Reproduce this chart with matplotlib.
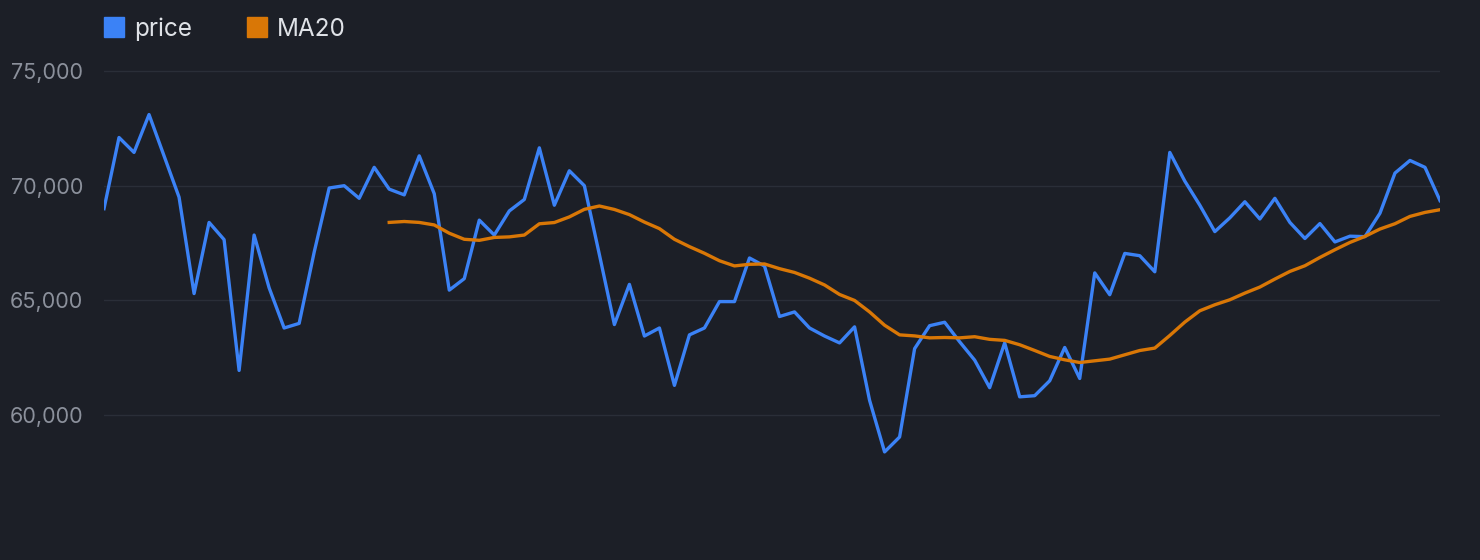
import matplotlib
matplotlib.use('Agg')
import matplotlib.pyplot as plt
from matplotlib.lines import Line2D
from matplotlib.ticker import FuncFormatter
import numpy as np

BG = '#1c1f27'
GRID = '#2a2e38'
TICK = '#8b909b'
TEXT = '#dfe2e7'
BLUE = '#3b82f6'
ORANGE = '#d97706'

price = [69000, 72100, 71450, 73100, 71300, 69500, 65300, 68400, 67650, 61950,
         67850, 65550, 63800, 64000, 67100, 69900, 70000, 69450, 70800, 69850,
         69600, 71300, 69650, 65450, 65950, 68500, 67850, 68900, 69400, 71650,
         69150, 70650, 70000, 67000, 63950, 65700, 63450, 63800, 61300, 63500,
         63800, 64950, 64950, 66850, 66500, 64300, 64500, 63800, 63450, 63150,
         63850, 60650, 58400, 59050, 62900, 63900, 64050, 63200, 62400, 61200,
         63150, 60800, 60850, 61500, 62950, 61600, 66200, 65250, 67050, 66950,
         66250, 71450, 70200, 69150, 68000, 68600, 69300, 68550, 69450, 68400,
         67700, 68350, 67550, 67800, 67780, 68800, 70550, 71100, 70800, 69350]

# MA20 values, starting at the 20th point
ma20_start = 19
ma20 = [68400, 68440, 68400, 68290, 67930, 67665, 67620, 67745, 67770, 67850,
        68340, 68395, 68640, 68970, 69115, 68965, 68740, 68415, 68130, 67665,
        67345, 67055, 66730, 66505, 66575, 66590, 66385, 66220, 65970, 65675,
        65260, 65000, 64500, 63920, 63500, 63455, 63370, 63386, 63370, 63420,
        63305, 63260, 63070, 62820, 62560, 62414, 62296, 62370, 62444, 62632,
        62819, 62924, 63474, 64057, 64550, 64812, 65030, 65320, 65583, 65932,
        66265, 66512, 66874, 67210, 67528, 67790, 68112, 68343, 68662, 68836,
        68954]

y_ticks = [60000, 65000, 70000, 75000]

x = np.arange(len(price))
x_ma = np.arange(ma20_start, ma20_start + len(ma20))

plt.rcParams['font.family'] = ['Inter', 'DejaVu Sans']
fig = plt.figure(figsize=(14.8, 5.6), dpi=100, facecolor=BG)
ax = fig.add_axes([104 / 1480, 1 - 507 / 560, 1336 / 1480, 459 / 560])
ax.set_facecolor(BG)

ax.plot(x, price, color=BLUE, lw=2.4, zorder=3)
ax.plot(x_ma, ma20, color=ORANGE, lw=2.4, zorder=3)

ax.set_xlim(0, len(price) - 1)
ax.set_ylim(56000, 76000)
ax.set_yticks(y_ticks)
ax.yaxis.set_major_formatter(FuncFormatter(lambda v, p: f'{int(v):,}'))
ax.set_xticks([])
ax.grid(axis='y', color=GRID, lw=1)
ax.set_axisbelow(True)
ax.tick_params(axis='y', length=0, pad=15, labelcolor=TICK, labelsize=15.5)
for s in ax.spines.values():
    s.set_visible(False)

handles = [Line2D([], [], marker='s', ls='none', markersize=14.5, color=BLUE),
           Line2D([], [], marker='s', ls='none', markersize=14.5, color=ORANGE)]
leg = fig.legend(handles, ['price', 'MA20'], loc='upper left',
                 bbox_to_anchor=(84 / 1480, 1.008), ncol=2, frameon=False,
                 handlelength=0.7, handletextpad=0.45, columnspacing=2.33,
                 prop={'size': 17.5})
for t in leg.get_texts():
    t.set_color(TEXT)

fig.savefig('out.png', dpi=100, facecolor=BG)
